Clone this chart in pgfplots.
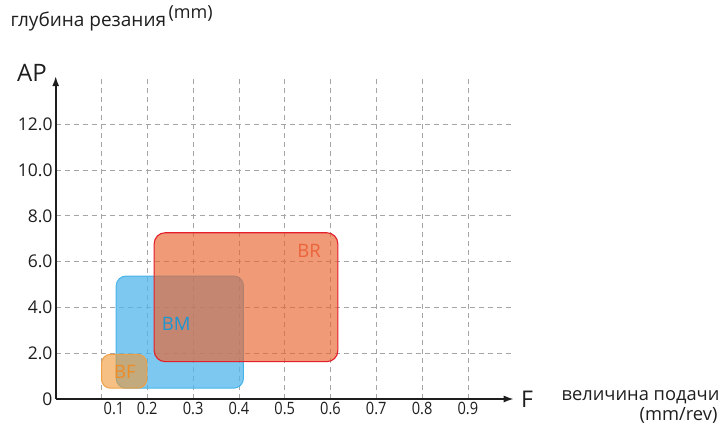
\documentclass[border=0pt]{standalone}
\usepackage{fontspec}
\setmainfont{Open Sans}
\newfontfamily\condfont[FakeStretch=0.86]{Open Sans}
\usepackage{pgfplots}
\pgfplotsset{compat=1.18}
\usetikzlibrary{arrows.meta}
\definecolor{brfill}{RGB}{233,101,48}
\definecolor{brdraw}{RGB}{228,30,42}
\definecolor{bmfill}{RGB}{82,182,235}
\definecolor{bmdraw}{RGB}{70,180,232}
\definecolor{bffill}{RGB}{240,150,50}
\definecolor{bfdraw}{RGB}{238,160,70}
\definecolor{brtext}{RGB}{235,100,60}
\definecolor{bmtext}{RGB}{30,150,210}
\definecolor{bftext}{RGB}{238,140,40}
\definecolor{gridc}{RGB}{165,165,165}
\definecolor{axc}{RGB}{30,30,30}
\begin{document}
\begin{tikzpicture}
\useasboundingbox (0,0) rectangle (724pt,427pt);
\begin{axis}[
  anchor=origin, at={(55.7pt,28pt)},
  x=458pt, y=22.9pt,
  xmin=0, xmax=1.0, ymin=0, ymax=14.1,
  axis lines=left,
  axis line style={line width=1.6pt, color=axc, -{Latex[length=10pt,width=7pt]}},
  xtick={0.1,0.2,0.3,0.4,0.5,0.6,0.7,0.8,0.9},
  xticklabels={\hspace*{25pt}0.1,0.2,0.3,0.4,0.5,0.6,0.7,0.8,0.9},
  ytick={0,2,4,6,8,10,12},
  yticklabels={0,2.0,4.0,6.0,8.0,10.0,12.0},
  major tick length=0pt,
  grid=major,
  major grid style={gridc, line width=0.7pt, dash pattern=on 5pt off 4pt},
  yticklabel style={font=\fontsize{17.5}{20}\selectfont, text=axc, inner sep=3pt},
  xticklabel style={font=\condfont\fontsize{17}{20}\selectfont, text=axc, inner sep=3pt},
  clip=false,
]
% BM
\addplot[draw=bmdraw, line width=1pt, fill=bmfill, fill opacity=0.75, rounded corners=10pt]
  coordinates {(0.132,0.47) (0.41,0.47) (0.41,5.37) (0.132,5.37)} -- cycle;
% BR
\addplot[draw=brdraw, line width=1.1pt, fill=brfill, fill opacity=0.66, rounded corners=11pt]
  coordinates {(0.215,1.63) (0.616,1.63) (0.616,7.26) (0.215,7.26)} -- cycle;
% BF
\addplot[draw=bfdraw, line width=1pt, fill=bffill, fill opacity=0.6, rounded corners=9pt]
  coordinates {(0.10,0.47) (0.199,0.47) (0.199,1.95) (0.10,1.95)} -- cycle;
\node[text=brtext, font=\fontsize{18.5}{22}\selectfont] at (axis cs:0.553,6.46) {BR};
\node[text=bmtext, font=\fontsize{18.5}{22}\selectfont] at (axis cs:0.263,3.26) {BM};
\node[text=bftext, font=\fontsize{18.5}{22}\selectfont] at (axis cs:0.151,1.19) {BF};
\end{axis}
\node[anchor=west, font=\fontsize{19}{22}\selectfont, text=axc] at (7pt,405pt) {глубина резания};
\node[anchor=west, font=\fontsize{18}{22}\selectfont, text=axc] at (165pt,413pt) {(mm)};
\node[font=\fontsize{24}{28}\selectfont, text=axc] at (32pt,354pt) {AP};
\node[font=\fontsize{23}{27}\selectfont, text=axc] at (527pt,28pt) {F};
\node[anchor=east, font=\fontsize{18.3}{22}\selectfont, text=axc] at (723pt,30pt) {величина подачи};
\node[anchor=east, font=\fontsize{18.3}{22}\selectfont, text=axc] at (721pt,12pt) {(mm/rev)};
\end{tikzpicture}
\end{document}
